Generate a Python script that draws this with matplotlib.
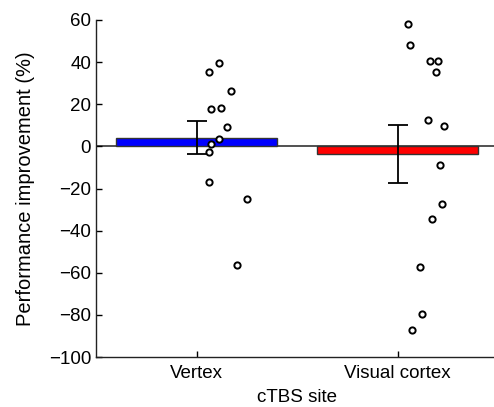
import matplotlib
matplotlib.use("Agg")
import matplotlib.pyplot as plt
import numpy as np

plt.rcParams['font.family'] = ['Liberation Sans', 'DejaVu Sans']

categories = ["Vertex", "Visual cortex"]
bar_colors = ["#0000ff", "#ff0000"]

vertex_values = [39.6, 35.1, 26.5, 17.7, 18.2, 9.4, 3.6, 1.3, -2.9, -17.0, -25.0, -56.3]
vertex_jitter = [0.11, 0.06, 0.17, 0.07, 0.12, 0.15, 0.11, 0.07, 0.06, 0.06, 0.25, 0.20]

visual_values = [58.2, 48.2, 40.3, 40.7, 35.5, 12.6, 9.9, -8.9, -27.2, -34.4, -57.4, -79.5, -87.3]
visual_jitter = [0.05, 0.06, 0.16, 0.20, 0.19, 0.15, 0.23, 0.21, 0.22, 0.17, 0.11, 0.12, 0.07]

means = [4.0, -3.6]
err_upper = [12.1, 10.0]
err_lower = [-3.6, -17.6]

yticks = [60, 40, 20, 0, -20, -40, -60, -80, -100]

fig = plt.figure(figsize=(4.94, 4.07), dpi=100)
ax = fig.add_axes([96/494, 1-357/407, 402/494, (357-20)/407])

x = np.arange(1, len(categories) + 1)
ax.bar(x, means, width=0.8, color=bar_colors, edgecolor="#333333", linewidth=1.0, zorder=2)
ax.axhline(0, color="#333333", linewidth=1.2, zorder=1)

yerr = [np.array(means) - np.array(err_lower), np.array(err_upper) - np.array(means)]
ax.errorbar(x, means, yerr=yerr, fmt="none", ecolor="black", elinewidth=1.3,
            capsize=7, capthick=1.3, zorder=3)

for xi, vals, jit in [(1, vertex_values, vertex_jitter), (2, visual_values, visual_jitter)]:
    ax.plot(xi + np.array(jit), vals, linestyle="none", marker="o", markersize=4.5,
            markerfacecolor="white", markeredgecolor="black", markeredgewidth=1.4, zorder=4)

ax.set_xlim(0.5, 2.5)
ax.set_ylim(-100, 60)
ax.set_yticks(yticks)
ax.set_xticks(x)
ax.set_xticklabels(categories)
ax.tick_params(direction="in", length=4, width=1, labelsize=13.5, colors="black")
ax.tick_params(axis="x", pad=6)
ax.spines["top"].set_visible(False)
ax.spines["right"].set_visible(False)
for s in ["left", "bottom"]:
    ax.spines[s].set_linewidth(1.0)
    ax.spines[s].set_color("#222222")

ax.set_ylabel("Performance improvement (%)", fontsize=14.5, labelpad=10)
ax.set_xlabel("cTBS site", fontsize=13.5, labelpad=5)

fig.savefig("out.png", dpi=100)
